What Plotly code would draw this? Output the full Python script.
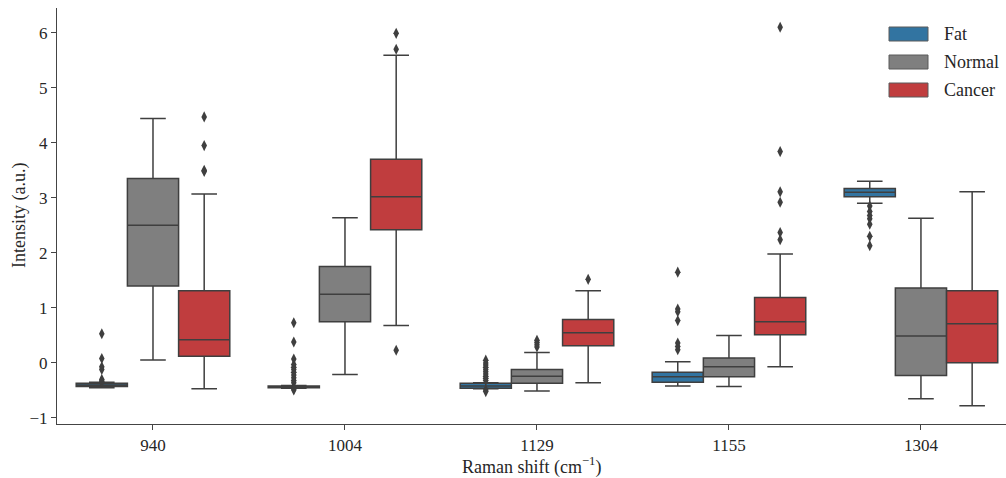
import plotly.graph_objects as go

categories = ["940", "1004", "1129", "1155", "1304"]
hues = ["Fat", "Normal", "Cancer"]
colors = {"Fat": "#3274a1", "Normal": "#7f7f7f", "Cancer": "#c03d3e"}

# box statistics per hue, one value per category
fat_q1 = [-0.43, -0.45, -0.46, -0.35, 3.02]
fat_med = [-0.40, -0.43, -0.42, -0.25, 3.10]
fat_q3 = [-0.37, -0.42, -0.37, -0.17, 3.17]
fat_lo = [-0.45, -0.46, -0.47, -0.42, 2.90]
fat_hi = [-0.35, -0.41, -0.36, 0.02, 3.30]

normal_q1 = [1.40, 0.75, -0.37, -0.25, -0.23]
normal_med = [2.50, 1.25, -0.24, -0.07, 0.49]
normal_q3 = [3.35, 1.75, -0.12, 0.09, 1.36]
normal_lo = [0.055, -0.21, -0.51, -0.43, -0.65]
normal_hi = [4.44, 2.64, 0.19, 0.50, 2.63]

cancer_q1 = [0.12, 2.42, 0.31, 0.51, 0.005]
cancer_med = [0.42, 3.02, 0.55, 0.75, 0.71]
cancer_q3 = [1.31, 3.70, 0.79, 1.19, 1.31]
cancer_lo = [-0.47, 0.68, -0.36, -0.07, -0.78]
cancer_hi = [3.07, 5.59, 1.31, 1.98, 3.11]

# outliers per hue, one list per category
fat_out = [
    [0.53, 0.08, -0.07, -0.12, -0.30, -0.33, -0.35],
    [0.73, 0.38, 0.07, -0.03, -0.08, -0.12, -0.17, -0.22, -0.27, -0.32, -0.36, -0.47, -0.49],
    [0.05, 0.0, -0.04, -0.08, -0.12, -0.16, -0.20, -0.24, -0.28, -0.32, -0.49, -0.52],
    [1.65, 0.98, 0.93, 0.77, 0.36, 0.30, 0.24],
    [2.85, 2.75, 2.68, 2.62, 2.52, 2.30, 2.13],
]
normal_out = [[], [], [0.41, 0.37, 0.33, 0.29], [], []]
cancer_out = [
    [4.47, 3.95, 3.50, 3.48],
    [5.99, 5.70, 0.23],
    [1.52],
    [6.10, 3.84, 3.11, 2.92, 2.37, 2.24],
    [],
]

x_title = "Raman shift (cm<sup>−1</sup>)"
y_title = "Intensity (a.u.)"

stats = {
    "Fat": (fat_q1, fat_med, fat_q3, fat_lo, fat_hi, fat_out),
    "Normal": (normal_q1, normal_med, normal_q3, normal_lo, normal_hi, normal_out),
    "Cancer": (cancer_q1, cancer_med, cancer_q3, cancer_lo, cancer_hi, cancer_out),
}

line_col = "#3f3f3f"
font_family = "Liberation Serif, DejaVu Serif, serif"
group_width = 0.8
box_w = group_width / len(hues)

fig = go.Figure()
for h_i, hue in enumerate(hues):
    q1, med, q3, lo, hi, outs = stats[hue]
    off = -group_width / 2 + box_w * (h_i + 0.5)
    xs = [i + off for i in range(len(categories))]
    fig.add_trace(go.Box(
        name=hue, x=xs, q1=q1, median=med, q3=q3,
        lowerfence=lo, upperfence=hi,
        width=box_w, whiskerwidth=0.5,
        fillcolor=colors[hue],
        line=dict(color=line_col, width=1.5),
        boxpoints=False, hoverinfo="skip",
        showlegend=False,
    ))
    ox, oy = [], []
    for i, lst in enumerate(outs):
        ox += [i + off] * len(lst)
        oy += lst
    fig.add_trace(go.Scatter(
        x=ox, y=oy, mode="markers", showlegend=False,
        marker=dict(symbol="diamond-tall", size=8, color=line_col),
        hoverinfo="skip",
    ))

# legend drawn as patches + labels in paper space
PW, PH = 1006 - 57, 478 - 8 - 54
for h_i, hue in enumerate(hues):
    top = 27 + 28 * h_i
    fig.add_shape(type="rect", xref="paper", yref="paper",
                  x0=(889 - 57) / PW, x1=(928 - 57) / PW,
                  y0=1 - (top + 14 - 8) / PH, y1=1 - (top - 8) / PH,
                  fillcolor=colors[hue], line=dict(color="#5a5a5a", width=1))
    fig.add_annotation(xref="paper", yref="paper", x=(942 - 57) / PW,
                       y=1 - (top + 7 - 8) / PH, xanchor="left", yanchor="middle",
                       text=hue, showarrow=False, font=dict(size=18, color="#262626"))

fig.add_annotation(xref="paper", yref="paper", x=0.5, y=-(466 - 424) / PH,
                   xanchor="center", yanchor="middle", text=x_title, showarrow=False,
                   font=dict(size=18, color="#262626"))
fig.add_annotation(xref="paper", yref="paper", x=-(57 - 19) / PW, y=0.5,
                   xanchor="center", yanchor="middle", text=y_title, showarrow=False,
                   textangle=-90, font=dict(size=18, color="#262626"))

fig.update_layout(
    width=1006, height=478,
    margin=dict(l=57, r=0, t=8, b=54),
    paper_bgcolor="white", plot_bgcolor="white",
    font=dict(family=font_family, size=17, color="#262626"),
    showlegend=False,
)
fig.update_xaxes(
    range=[-0.5, 4.443], tickmode="array",
    tickvals=list(range(len(categories))), ticktext=categories,
    showline=True, linecolor="#444", linewidth=1.2,
    ticks="outside", ticklen=5, tickcolor="#444",
    showgrid=False, zeroline=False, automargin=False,
)
fig.update_yaxes(
    range=[-1.11, 6.45], tickvals=[-1, 0, 1, 2, 3, 4, 5, 6],
    showline=True, linecolor="#444", linewidth=1.2,
    ticks="outside", ticklen=5, tickcolor="#444",
    showgrid=False, zeroline=False, automargin=False,
)

fig.write_html(
    "out.html",
    config={"displayModeBar": False},
    post_script="document.body.style.margin='0px';document.body.style.overflow='hidden';",
)
